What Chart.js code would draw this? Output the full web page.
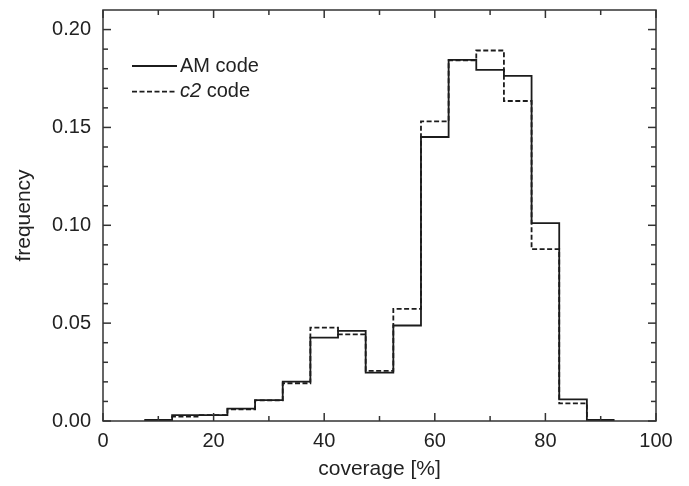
<!DOCTYPE html>
<html>
<head>
<meta charset="utf-8">
<script src="https://cdn.jsdelivr.net/npm/chart.js@4/dist/chart.umd.min.js"></script>
<style>
  html, body { margin: 0; padding: 0; background: #fff; }
  canvas { display: block; }
</style>
</head>
<body>
<canvas id="hist_chart" width="689" height="486"></canvas>
<script>
// bin centres (coverage %), bin width 5
const coverage = [10, 15, 20, 25, 30, 35, 40, 45, 50, 55, 60, 65, 70, 75, 80, 85, 90];
const amCode = [0.0005, 0.0030, 0.0030, 0.0063, 0.0107, 0.0201, 0.0426, 0.0460, 0.0247, 0.0488, 0.1451, 0.1845, 0.1794, 0.1763, 0.1011, 0.0111, 0.0005];
const c2Code = [0.0004, 0.0022, 0.0030, 0.0060, 0.0105, 0.0193, 0.0477, 0.0443, 0.0256, 0.0573, 0.1531, 0.1843, 0.1893, 0.1635, 0.0878, 0.0090, 0.0004];
const binWidth = 5;

const xTicks = [0, 20, 40, 60, 80, 100];
const xMinor = [10, 30, 50, 70, 90];
const yTicks = [0, 0.05, 0.10, 0.15, 0.20];
const yMinor = [0.01, 0.02, 0.03, 0.04, 0.06, 0.07, 0.08, 0.09, 0.11, 0.12, 0.13, 0.14, 0.16, 0.17, 0.18, 0.19];

const legendItems = [
  { italic: 'c2', text: ' code', dash: [5, 2.5] }
];

const FONT = '"Liberation Sans", Arial, Helvetica, sans-serif';
const INK = '#1c1c1c';

// step points: left edge of each bin, then the right edge of the last one
const toSteps = (vals) => {
  const pts = coverage.map((c, i) => ({ x: c - binWidth / 2, y: vals[i] }));
  pts.push({ x: coverage[coverage.length - 1] + binWidth / 2, y: vals[vals.length - 1] });
  return pts;
};

// no extra room for end labels, the layout padding handles it
const noPad = (scale) => {
  scale.paddingTop = 0;
  scale.paddingBottom = 0;
  scale.paddingLeft = 0;
  scale.paddingRight = 0;
};

const frameAndLegend = {
  id: 'frameAndLegend',
  afterDatasetsDraw(chart) {
    const ctx = chart.ctx;
    const { left, right, top, bottom } = chart.chartArea;
    const xs = chart.scales.x, ys = chart.scales.y;
    ctx.save();
    ctx.strokeStyle = '#333';
    ctx.lineWidth = 1.5;
    ctx.strokeRect(left, top, right - left, bottom - top);
    const tick = (x1, y1, x2, y2) => { ctx.beginPath(); ctx.moveTo(x1, y1); ctx.lineTo(x2, y2); ctx.stroke(); };
    xTicks.forEach(v => { const p = xs.getPixelForValue(v); tick(p, bottom, p, bottom - 8); tick(p, top, p, top + 8); });
    xMinor.forEach(v => { const p = xs.getPixelForValue(v); tick(p, bottom, p, bottom - 5); tick(p, top, p, top + 5); });
    yTicks.forEach(v => { const p = ys.getPixelForValue(v); tick(left, p, left + 8, p); tick(right, p, right - 8, p); });
    yMinor.forEach(v => { const p = ys.getPixelForValue(v); tick(left, p, left + 5, p); tick(right, p, right - 5, p); });

    // legend
    const lx = left + 29, ly = top + 56, gap = 25.7;
    ctx.strokeStyle = INK;
    ctx.fillStyle = '#222';
    ctx.lineWidth = 1.8;
    ctx.textBaseline = 'middle';
    chart.data.datasets.forEach((ds, i) => {
      const y = ly + i * gap;
      ctx.setLineDash(ds.borderDash || []);
      tick(lx, y, lx + 45, y);
      ctx.setLineDash([]);
      let tx = lx + 48;
      if (ds.italicLabel) {
        ctx.font = 'italic 20px ' + FONT;
        ctx.fillText(ds.italicLabel, tx, y);
        tx += ctx.measureText(ds.italicLabel).width;
      }
      ctx.font = '20px ' + FONT;
      ctx.fillText(ds.plainLabel, tx, y);
    });
    ctx.restore();
  }
};

const createHistChart = () => {
  const ctx = document.getElementById('hist_chart').getContext('2d');
  new Chart(ctx, {
    type: 'line',
    data: {
      datasets: [
        {
          label: 'AM code',
          plainLabel: 'AM code',
          data: toSteps(amCode),
          stepped: true,
          borderColor: INK,
          borderWidth: 1.8,
          pointRadius: 0,
          fill: false
        },
        {
          label: 'c2 code',
          italicLabel: legendItems[0].italic,
          plainLabel: legendItems[0].text,
          data: toSteps(c2Code),
          stepped: true,
          borderColor: INK,
          borderWidth: 1.8,
          borderDash: legendItems[0].dash,
          pointRadius: 0,
          fill: false
        }
      ]
    },
    options: {
      responsive: false,
      animation: false,
      layout: { padding: { top: 10, right: 33, bottom: 0, left: 0 } },
      plugins: { legend: { display: false }, tooltip: { enabled: false } },
      scales: {
        x: {
          type: 'linear',
          min: 0,
          max: 100,
          grid: { display: false, drawTicks: false },
          border: { display: false },
          afterBuildTicks: (scale) => { scale.ticks = xTicks.map(v => ({ value: v })); },
          afterFit: (scale) => { scale.height = 65; noPad(scale); },
          ticks: { color: '#222', font: { family: FONT, size: 20 }, padding: 8, maxRotation: 0 },
          title: { display: true, text: 'coverage [%]', color: '#222', font: { family: FONT, size: 21 }, padding: { top: 0, bottom: 4 } }
        },
        y: {
          min: 0,
          max: 0.21,
          grid: { display: false, drawTicks: false },
          border: { display: false },
          afterBuildTicks: (scale) => { scale.ticks = yTicks.map(v => ({ value: v })); },
          afterFit: (scale) => { scale.width = 103; noPad(scale); },
          ticks: { color: '#222', font: { family: FONT, size: 20 }, padding: 12, callback: (v) => Number(v).toFixed(2) },
          title: { display: true, text: 'frequency', color: '#222', font: { family: FONT, size: 21 }, padding: { top: 12, bottom: 0 } }
        }
      }
    },
    plugins: [frameAndLegend]
  });
};

document.addEventListener('DOMContentLoaded', () => {
  createHistChart();
});
</script>
</body>
</html>
